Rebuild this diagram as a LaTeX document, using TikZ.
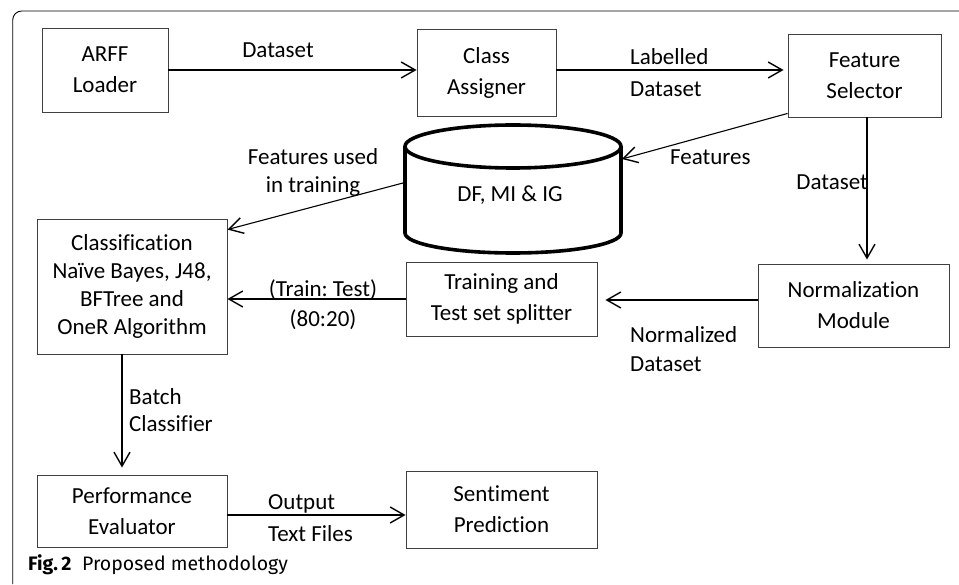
\documentclass[tikz,border=0pt]{standalone}
\usepackage{fontspec}
\setmainfont{Carlito}[Ligatures=NoCommon]
\newfontfamily\capfont{Fira Sans}
\usetikzlibrary{arrows.meta,calc}
\frenchspacing

\begin{document}
\begin{tikzpicture}[x=1pt,y=1pt,
  box/.style={draw=black!75, line width=0.9pt, rectangle, inner sep=0pt,
    align=center, font=\fontsize{23}{31}\selectfont},
  lbl/.style={inner sep=0pt, font=\fontsize{23}{30}\selectfont},
  arr/.style={line width=1.4pt,
    -{Straight Barb[length=14pt,width=16pt,line width=1.4pt]}},
  thinarr/.style={arr, line width=1.1pt},
  drum/.style={line width=3.6pt}
]
\useasboundingbox (0,0) rectangle (959,584);

% outer frame (top and left edges only)
\draw[line width=0.9pt, rounded corners=9pt] (12.7,0) -- (12.7,573) -- (965,573);

% process boxes
\node[box, minimum width=126pt, minimum height=84pt] (arff)   at (105,514)   {ARFF\\Loader};
\node[box, minimum width=139pt, minimum height=87pt] (assign) at (486.5,511.5) {Class\\Assigner};
\node[box, minimum width=153pt, minimum height=83pt] (fsel)   at (864.5,508.5) {Feature\\Selector};
\node[box, minimum width=191pt, minimum height=83pt] (norm)   at (853.5,278.5) {Normalization\\Module};
\node[box, minimum width=191pt, minimum height=74pt] (split)  at (501.5,285)   {Training and\\Test set splitter};
\node[box, minimum width=190pt, minimum height=135pt,
      font=\fontsize{23}{28}\selectfont] (clf) at (132,297.5)
      {Classification\\Na\"ive Bayes, J48,\\BFTree and\\OneR Algorithm};
\node[box, minimum width=190pt, minimum height=72pt] (perf)   at (132,73)     {Performance\\Evaluator};
\node[box, minimum width=191pt, minimum height=77pt] (sent)   at (501.5,74.5) {Sentiment\\Prediction};

% feature store drum
\coordinate (dbc) at (513,437.5);
\draw[drum] (dbc) ellipse [x radius=108, y radius=21.5];
\draw[drum] ($(dbc)+(-108,0)$) -- ++(0,-86.5)
  arc[start angle=180, end angle=360, x radius=108, y radius=20] -- ++(0,86.5);
\node[lbl, anchor=base] (db) at (510,382) {DF, MI \& IG};
\coordinate (dbR) at (622,425);
\coordinate (dbL) at (403,401);

% connectors
\draw[arr] (arff.east) -- (arff.east -| assign.west);
\draw[arr, shorten >=4pt] (assign.east |- arff.east) -- (arff.east -| fsel.west);
\draw[thinarr] ([yshift=4pt]fsel.south west) -- (dbR);
\draw[thinarr] (dbL) -- ([yshift=-11pt]clf.north east);
\draw[thinarr, shorten >=4pt] ([xshift=2.5pt]fsel.south) -- ([xshift=2.5pt]fsel.south |- norm.north);
\draw[thinarr, shorten >=8pt] ([yshift=5.5pt]norm.west) -- ([yshift=5.5pt]norm.west -| split.east);
\draw[thinarr] (split.west) -- (split.west -| clf.east);
\draw[thinarr, shorten >=7pt] ([xshift=-10pt]clf.south) -- ([xshift=-10pt]clf.south |- perf.north);
\draw[arr] ([yshift=-4pt]perf.east) -- ([yshift=-4pt]perf.east -| sent.west);

% connector labels (base anchor sits on the last line)
\node[lbl, anchor=base] (lData1) at (278,526) {Dataset};
\node[lbl, anchor=base west, align=left, font=\fontsize{23}{32}\selectfont] (lLab) at (630,487) {Labelled\\Dataset};
\node[lbl, anchor=base west] (lFeat) at (670,419) {Features};
\node[lbl, anchor=base east] (lData2) at (868,394) {Dataset};
\node[lbl, anchor=base, align=center, font=\fontsize{23}{28}\selectfont] (lUsed) at (313,391) {Features used\\in training};
\node[lbl, anchor=base, align=center] (lSplit) at (323,257) {(Train: Test)\\(80:20)};
\node[lbl, anchor=base west, align=left, font=\fontsize{23}{29}\selectfont] (lNorm) at (630,212) {Normalized\\Dataset};
\node[lbl, anchor=base west, align=left, font=\fontsize{23}{27}\selectfont] (lBatch) at (129,152) {Batch\\Classifier};
\node[lbl, anchor=base west, align=left, font=\fontsize{23}{32}\selectfont] (lOut) at (268,42) {Output\\Text Files};

% caption
\node[anchor=base west, inner sep=0pt, font=\capfont\fontsize{19.5}{22}\selectfont] (cap)
  at (28,13) {\textbf{Fig.\,2}\hspace{0.55em}Proposed methodology};
\end{tikzpicture}
\end{document}
